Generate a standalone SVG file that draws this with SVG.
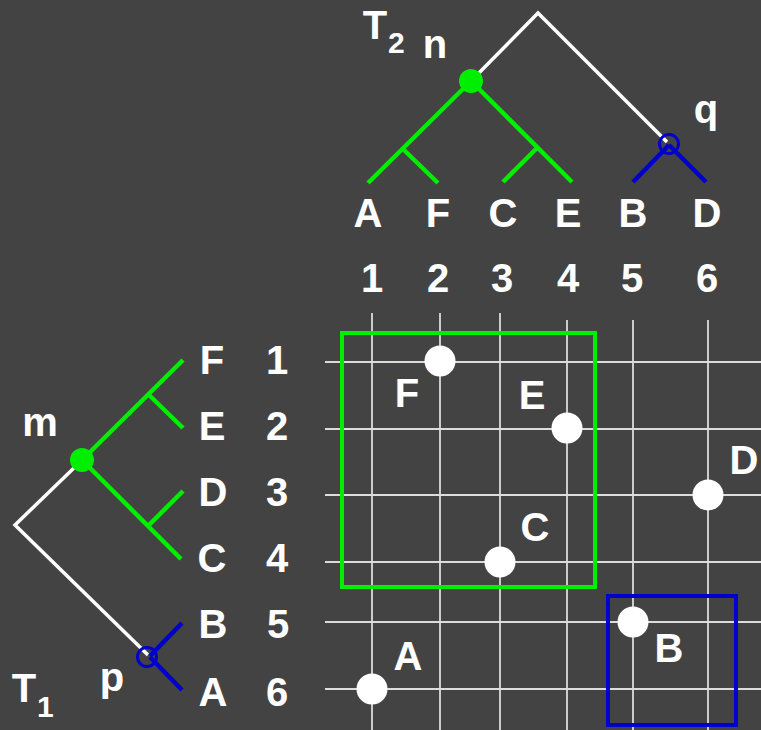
<svg xmlns="http://www.w3.org/2000/svg" width="761" height="730" viewBox="0 0 761 730">
<style>
text{font-family:"Liberation Sans",Arial,sans-serif;font-weight:bold;fill:#ffffff;font-size:40px;text-anchor:middle}
text.sub{font-size:30px;text-anchor:start}
.grid{stroke:#dcdcdc;stroke-width:1.8;fill:none}
.w{stroke:#ffffff;stroke-width:3.5;fill:none}
.g{stroke:#00ee00;stroke-width:4.5;fill:none;stroke-linecap:butt}
.b{stroke:#0000cc;stroke-width:4.5;fill:none}
.dot{fill:#ffffff}
.gdot{fill:#00ee00}
.bcirc{fill:none;stroke:#0000cc;stroke-width:3}
</style>
<rect width="761" height="730" fill="#434343"/>
<g id="grid" class="grid">
<line x1="372" y1="313" x2="372" y2="730"/>
<line x1="440" y1="313" x2="440" y2="730"/>
<line x1="500" y1="313" x2="500" y2="730"/>
<line x1="567" y1="320" x2="567" y2="730"/>
<line x1="633" y1="320" x2="633" y2="730"/>
<line x1="708" y1="320" x2="708" y2="730"/>
<line x1="325" y1="362" x2="761" y2="362"/>
<line x1="325" y1="429" x2="761" y2="429"/>
<line x1="325" y1="495" x2="761" y2="495"/>
<line x1="325" y1="562" x2="761" y2="562"/>
<line x1="325" y1="622" x2="761" y2="622"/>
<line x1="325" y1="689" x2="761" y2="689"/>
</g>
<g id="connectors">
<g id="t2-edges">
<polyline class="w" points="471,81 538,13 667,142"/>
<line class="g" x1="471" y1="81" x2="368" y2="183"/>
<line class="g" x1="403" y1="149" x2="438" y2="183"/>
<line class="g" x1="471" y1="81" x2="572" y2="182"/>
<line class="g" x1="537" y1="148" x2="503" y2="182"/>
<line class="b" x1="669" y1="145" x2="633" y2="182"/>
<line class="b" x1="669" y1="145" x2="706" y2="182"/>
</g>
<g id="t1-edges">
<polyline class="w" points="76,466 15,525 148,655"/>
<line class="g" x1="82" y1="460" x2="183" y2="360"/>
<line class="g" x1="148" y1="394" x2="183" y2="428"/>
<line class="g" x1="82" y1="460" x2="181" y2="559"/>
<line class="g" x1="148" y1="526" x2="183" y2="491"/>
<line class="b" x1="150" y1="656" x2="182" y2="623"/>
<line class="b" x1="150" y1="657" x2="182" y2="690"/>
</g>
</g>
<g id="node-n"><circle class="gdot" cx="471" cy="81" r="12"/><text x="435" y="58">n</text></g>
<g id="node-q"><circle class="bcirc" cx="669" cy="144" r="9.5"/><text x="706" y="123">q</text></g>
<g id="node-m"><circle class="gdot" cx="82" cy="460" r="12"/><text x="40" y="436">m</text></g>
<g id="node-p"><circle class="bcirc" cx="147" cy="657" r="9.5"/><text x="112" y="691">p</text></g>
<g id="title-T2"><text x="375" y="39">T</text><text class="sub" x="388" y="53">2</text></g>
<g id="title-T1"><text x="24" y="702">T</text><text class="sub" x="37" y="717">1</text></g>
<g id="t2-leaves">
<text x="368" y="227">A</text>
<text x="438" y="227">F</text>
<text x="503" y="227">C</text>
<text x="568" y="227">E</text>
<text x="633" y="227">B</text>
<text x="707" y="227">D</text>
</g>
<g id="col-numbers">
<text x="372" y="292">1</text>
<text x="438" y="292">2</text>
<text x="502" y="292">3</text>
<text x="568" y="292">4</text>
<text x="632" y="292">5</text>
<text x="707" y="292">6</text>
</g>
<g id="t1-leaves">
<text x="212" y="374">F</text>
<text x="212" y="440">E</text>
<text x="213" y="506">D</text>
<text x="212" y="572">C</text>
<text x="213" y="638">B</text>
<text x="213" y="706">A</text>
</g>
<g id="row-numbers">
<text x="277" y="374">1</text>
<text x="277" y="440">2</text>
<text x="277" y="506">3</text>
<text x="277" y="572">4</text>
<text x="278" y="638">5</text>
<text x="277" y="706">6</text>
</g>
<g id="box-green"><rect x="342" y="333" width="253" height="254" fill="none" stroke="#00ee00" stroke-width="4"/></g>
<g id="box-blue"><rect x="608" y="596" width="128" height="129" fill="none" stroke="#0000cc" stroke-width="4"/></g>
<g id="point-F"><circle class="dot" cx="440" cy="361" r="15.5"/><text x="407" y="407">F</text></g>
<g id="point-E"><circle class="dot" cx="567" cy="428" r="15.5"/><text x="532" y="409">E</text></g>
<g id="point-D"><circle class="dot" cx="708" cy="495" r="15.5"/><text x="744" y="474">D</text></g>
<g id="point-C"><circle class="dot" cx="500" cy="562" r="15.5"/><text x="535" y="541">C</text></g>
<g id="point-B"><circle class="dot" cx="633" cy="622" r="15.5"/><text x="669" y="662">B</text></g>
<g id="point-A"><circle class="dot" cx="372" cy="689" r="15.5"/><text x="408" y="670">A</text></g>
</svg>
